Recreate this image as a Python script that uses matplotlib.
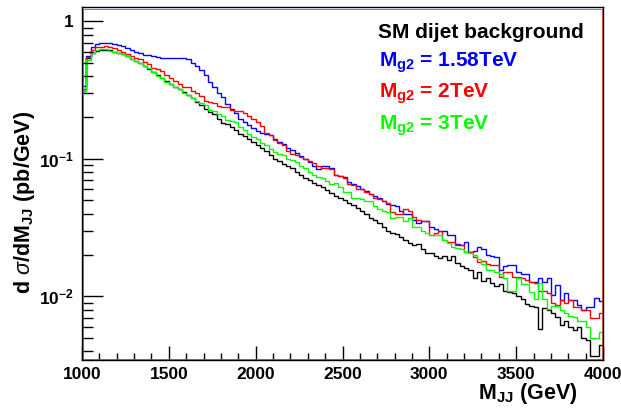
import numpy as np
import matplotlib
matplotlib.use("Agg")
import matplotlib.pyplot as plt
from matplotlib.patches import Rectangle
from matplotlib.ticker import FixedLocator, NullFormatter

plt.rcParams['font.family'] = ['Liberation Sans', 'DejaVu Sans']
plt.rcParams['mathtext.fontset'] = 'custom'
plt.rcParams['mathtext.rm'] = 'Liberation Sans'
plt.rcParams['mathtext.bf'] = 'Liberation Sans:bold'
plt.rcParams['mathtext.it'] = 'Liberation Sans:italic'

# ---- data (25 GeV bins from 1000 to 4000 GeV) ----
bin_start = 1000
bin_width = 25

sm_background = [
    0.31, 0.54, 0.59, 0.61, 0.62, 0.62, 0.615, 0.60, 0.59, 0.575,
    0.555, 0.535, 0.515, 0.495, 0.47, 0.45, 0.43, 0.41, 0.39, 0.37,
    0.35, 0.335, 0.32, 0.305, 0.29, 0.275, 0.26, 0.245, 0.232, 0.22,
    0.21, 0.195, 0.183, 0.178, 0.17, 0.162, 0.152, 0.146, 0.14, 0.132,
    0.126, 0.12, 0.113, 0.106, 0.100, 0.096, 0.092, 0.088, 0.085, 0.080,
    0.076, 0.073, 0.070, 0.067, 0.064, 0.062, 0.059, 0.056, 0.054, 0.052,
    0.050, 0.048, 0.046, 0.044, 0.042, 0.040, 0.037, 0.036, 0.034, 0.032,
    0.030, 0.029, 0.0285, 0.027, 0.0255, 0.0245, 0.0235, 0.024, 0.022, 0.0205,
    0.0205, 0.0195, 0.019, 0.0195, 0.0185, 0.0195, 0.0175, 0.0165, 0.016, 0.0155,
    0.0135, 0.015, 0.013, 0.0135, 0.0125, 0.0118, 0.0122, 0.011, 0.0108, 0.0105,
    0.0100, 0.0095, 0.0088, 0.0085, 0.0083, 0.0058, 0.0082, 0.0079, 0.0075, 0.0071,
    0.0062, 0.0066, 0.0060, 0.0057, 0.0060, 0.0050, 0.0048, 0.0037, 0.0037, 0.0044,
]

mg2_158 = [
    0.34, 0.56, 0.65, 0.68, 0.69, 0.695, 0.69, 0.685, 0.67, 0.66,
    0.64, 0.62, 0.60, 0.585, 0.57, 0.565, 0.555, 0.55, 0.545, 0.545,
    0.54, 0.54, 0.545, 0.54, 0.53, 0.50, 0.47, 0.44, 0.41, 0.36,
    0.33, 0.30, 0.28, 0.25, 0.23, 0.215, 0.195, 0.185, 0.175, 0.168,
    0.16, 0.155, 0.152, 0.148, 0.14, 0.132, 0.128, 0.12, 0.115, 0.11,
    0.104, 0.100, 0.094, 0.088, 0.084, 0.088, 0.088, 0.085, 0.076, 0.075,
    0.074, 0.068, 0.066, 0.063, 0.060, 0.058, 0.055, 0.054, 0.052, 0.049,
    0.047, 0.046, 0.045, 0.042, 0.040, 0.040, 0.036, 0.034, 0.035, 0.035,
    0.032, 0.031, 0.030, 0.030, 0.028, 0.0277, 0.024, 0.0235, 0.025, 0.021,
    0.0215, 0.023, 0.022, 0.020, 0.0195, 0.0193, 0.0155, 0.0165, 0.0168, 0.0168,
    0.015, 0.0145, 0.0145, 0.0127, 0.0127, 0.0135, 0.0127, 0.0135, 0.0102, 0.012,
    0.0094, 0.0105, 0.0094, 0.0094, 0.0086, 0.0080, 0.0083, 0.0083, 0.0097, 0.0092,
]

mg2_2 = [
    0.32, 0.55, 0.62, 0.645, 0.655, 0.66, 0.655, 0.64, 0.615, 0.595,
    0.58, 0.56, 0.545, 0.53, 0.51, 0.49, 0.46, 0.45, 0.435, 0.405,
    0.39, 0.37, 0.35, 0.335, 0.33, 0.31, 0.30, 0.285, 0.265, 0.257,
    0.255, 0.243, 0.237, 0.237, 0.225, 0.222, 0.222, 0.215, 0.206, 0.196,
    0.185, 0.172, 0.155, 0.15, 0.138, 0.13, 0.126, 0.114, 0.108, 0.106,
    0.103, 0.100, 0.096, 0.093, 0.088, 0.085, 0.085, 0.084, 0.076, 0.075,
    0.072, 0.066, 0.065, 0.060, 0.060, 0.057, 0.055, 0.052, 0.051, 0.049,
    0.048, 0.041, 0.040, 0.040, 0.043, 0.042, 0.038, 0.036, 0.035, 0.035,
    0.028, 0.029, 0.030, 0.0256, 0.025, 0.0247, 0.0235, 0.0235, 0.021, 0.021,
    0.0193, 0.0177, 0.018, 0.0172, 0.0168, 0.0168, 0.0138, 0.015, 0.015, 0.0138,
    0.0138, 0.0135, 0.0131, 0.0127, 0.0124, 0.011, 0.011, 0.0106, 0.0089, 0.0087,
    0.0094, 0.0089, 0.0094, 0.0084, 0.0084, 0.008, 0.008, 0.0069, 0.0069, 0.0075,
]

mg2_3 = [
    0.31, 0.52, 0.59, 0.62, 0.625, 0.625, 0.61, 0.60, 0.59, 0.575,
    0.56, 0.53, 0.515, 0.50, 0.475, 0.455, 0.43, 0.40, 0.385, 0.36,
    0.35, 0.335, 0.32, 0.30, 0.29, 0.275, 0.265, 0.255, 0.245, 0.225,
    0.224, 0.213, 0.205, 0.19, 0.188, 0.185, 0.17, 0.163, 0.152, 0.144,
    0.14, 0.131, 0.125, 0.118, 0.112, 0.109, 0.106, 0.10, 0.098, 0.095,
    0.088, 0.085, 0.08, 0.076, 0.074, 0.072, 0.069, 0.066, 0.067, 0.062,
    0.057, 0.057, 0.052, 0.052, 0.051, 0.049, 0.049, 0.045, 0.043, 0.042,
    0.041, 0.037, 0.038, 0.038, 0.035, 0.037, 0.032, 0.032, 0.030, 0.029,
    0.028, 0.028, 0.028, 0.0256, 0.0243, 0.0229, 0.0225, 0.0222, 0.021, 0.0205,
    0.020, 0.0187, 0.0173, 0.0155, 0.0155, 0.015, 0.0146, 0.0135, 0.011, 0.011,
    0.0135, 0.0122, 0.0122, 0.0108, 0.0096, 0.0125, 0.0096, 0.0081, 0.0085, 0.0085,
    0.008, 0.0075, 0.0072, 0.0071, 0.0066, 0.0066, 0.006, 0.005, 0.005, 0.0055,
]

series_labels = ["SM dijet background", r"$\mathbf{M_{g2}}$ = 1.58TeV",
                 r"$\mathbf{M_{g2}}$ = 2TeV", r"$\mathbf{M_{g2}}$ = 3TeV"]
series_colors = ["black", "#0000ff", "#ff0000", "#00ff00"]

x_major_ticks = [1000, 1500, 2000, 2500, 3000, 3500, 4000]
x_tick_labels = ["1000", "1500", "2000", "2500", "3000", "3500", "4000"]
y_major_ticks = [0.01, 0.1, 1.0]
y_tick_labels = [r"$\mathbf{10^{-2}}$", r"$\mathbf{10^{-1}}$", "1"]

# ---- figure ----
W, H = 621, 411
AX_L, AX_R, AX_T, AX_B = 82, 603, 7.5, 360
fig = plt.figure(figsize=(W / 100, H / 100), dpi=100)
ax = fig.add_axes([AX_L / W, 1 - AX_B / H, (AX_R - AX_L) / W, (AX_B - AX_T) / H])
aw, ah = AX_R - AX_L, AX_B - AX_T

all_series = [sm_background, mg2_158, mg2_2, mg2_3]
for vals, col in zip(all_series, series_colors):
    edges = bin_start + bin_width * np.arange(len(vals) + 1)
    ax.stairs(vals, edges, baseline=None, color=col, linewidth=1.0)

ax.set_yscale("log")
ax.set_xlim(1000, 4000)
ax.set_ylim(0.00344, 1.26)

ax.xaxis.set_major_locator(FixedLocator(x_major_ticks))
ax.set_xticklabels(x_tick_labels)
ax.xaxis.set_minor_locator(FixedLocator(np.arange(1000, 4001, 100)))
ax.xaxis.set_minor_formatter(NullFormatter())

ax.yaxis.set_major_locator(FixedLocator(y_major_ticks))
ax.set_yticklabels(y_tick_labels)
minors = [m * 10.0 ** e for e in (-3, -2, -1, 0) for m in range(2, 10)]
ax.yaxis.set_minor_locator(FixedLocator(minors))
ax.yaxis.set_minor_formatter(NullFormatter())

ax.tick_params(axis="x", which="major", direction="in", length=10, width=1.0,
               labelsize=12.5, pad=5, top=False)
ax.tick_params(axis="x", which="minor", direction="in", length=5, width=1.0, top=False)
ax.tick_params(axis="y", which="major", direction="in", length=15, width=1.0,
               labelsize=12.5, pad=6, right=False)
ax.tick_params(axis="y", which="minor", direction="in", length=8, width=1.0, right=False)
for lab in ax.get_xticklabels() + ax.get_yticklabels():
    lab.set_fontweight("bold")

for sp in ax.spines.values():
    sp.set_color("black")
    sp.set_linewidth(1.0)
    sp.set_zorder(6)
# thin inner red frame line (as in the reference)
ax.add_patch(Rectangle((1.3 / aw, 1.3 / ah), 1 - 2.6 / aw, 1 - 2.6 / ah,
                       transform=ax.transAxes, fill=False, edgecolor="#e04040",
                       linewidth=0.6, clip_on=False, zorder=5))

ax.set_xlabel(r"M$_{\mathbf{JJ}}$ (GeV)", fontsize=15.5, fontweight="bold")
ax.xaxis.set_label_coords((578 - AX_L) / aw, -(393 - AX_B) / ah)
ax.xaxis.label.set_horizontalalignment("right")
ax.xaxis.label.set_verticalalignment("center")
ax.set_ylabel(r"d $\sigma$/dM$_{\mathbf{JJ}}$ (pb/GeV)", fontsize=15.5, fontweight="bold")
ax.yaxis.set_label_coords((25 - AX_L) / aw, (AX_B - 202) / ah)
ax.yaxis.label.set_verticalalignment("center")

# legend-like text block
text_y = [33, 63, 94, 126]
text_x = [378, 379, 379, 379]
for lab, col, ty, tx in zip(series_labels, series_colors, text_y, text_x):
    fig.text(tx / W, 1 - ty / H, lab, color=col, fontsize=15, fontweight="bold",
             va="center", ha="left")

fig.savefig("out.png", dpi=100)
